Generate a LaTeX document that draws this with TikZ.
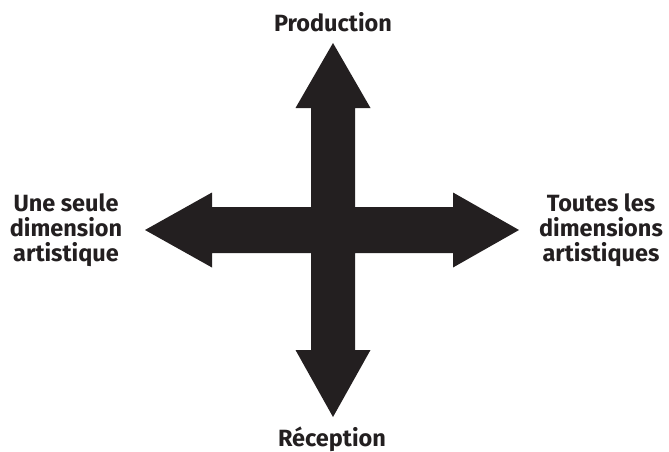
\documentclass[tikz,border=0pt]{standalone}
\usepackage{fontspec}
\setmainfont{Fira Sans}
\definecolor{inkblack}{HTML}{231F20}
\begin{document}
\begin{tikzpicture}[x=1pt,y=-1pt,
  lbl/.style={font=\bfseries\fontsize{23.5}{24.7}\selectfont, text=inkblack, align=center, inner sep=0pt},
  crossfill/.style={fill=inkblack, draw=none}]
\useasboundingbox (0,0) rectangle (669,452);
\fill[crossfill]
  (333,43) -- (370.5,108) -- (355,108) -- (355,207) -- (453,207) -- (453,192.5)
  -- (519,230) -- (453,267.5) -- (453,253) -- (355,253) -- (355,350) -- (370.5,350)
  -- (333,417) -- (295.5,350) -- (311,350) -- (311,253) -- (212,253) -- (212,267.5)
  -- (145,230) -- (212,192.5) -- (212,207) -- (311,207) -- (311,108) -- (295.5,108) -- cycle;
\node[lbl, anchor=base] (prod) at (333,32) {Production};
\node[lbl, anchor=base] (rec) at (332,446) {Réception};
\node[lbl] (left) at (66,230) {Une seule\\dimension\\artistique};
\node[lbl] (right) at (601,230) {Toutes les\\dimensions\\artistiques};
\end{tikzpicture}
\end{document}
